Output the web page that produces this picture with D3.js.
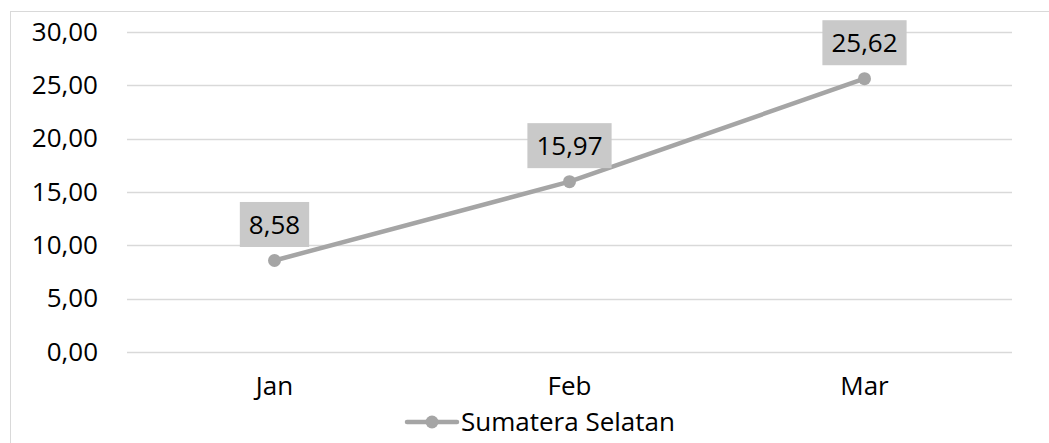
<!DOCTYPE html>
<html>
<head>
<meta charset="utf-8">
<script src="https://cdn.jsdelivr.net/npm/d3@7"></script>
<style>
  html, body { margin: 0; padding: 0; background: #fff; }
  svg { display: block; font-family: "Open Sans", "Noto Sans", sans-serif; }
</style>
</head>
<body>
<svg id="chart" width="1049" height="443"></svg>
<script>
// Monthly values for Sumatera Selatan
const categories = ["Jan", "Feb", "Mar"];
const values = [8.58, 15.97, 25.62];
const seriesName = "Sumatera Selatan";
const yTicks = [0, 5, 10, 15, 20, 25, 30];

const svg = d3.select("#chart");
const W = 1049, H = 443;
const plot = { left: 127, right: 1012, top: 32, bottom: 352 };
const lineColor = "#a5a5a5";
const fontSize = 26;
const fmt = v => d3.format(".2f")(v).replace(".", ",");

// Chart area border
svg.append("rect")
  .attr("x", 10.5).attr("y", 11.5)
  .attr("width", W + 10).attr("height", H + 10)
  .attr("fill", "none").attr("stroke", "#d9d9d9").attr("stroke-width", 1);

const x = d3.scaleBand().domain(categories).range([plot.left, plot.right]);
const y = d3.scaleLinear().domain([0, 30]).range([plot.bottom, plot.top]);

// Horizontal gridlines
svg.append("g")
  .selectAll("line").data(yTicks).join("line")
  .attr("x1", plot.left).attr("x2", plot.right)
  .attr("y1", d => Math.round(y(d)) + 0.5).attr("y2", d => Math.round(y(d)) + 0.5)
  .attr("stroke", "#d9d9d9").attr("stroke-width", 1.5);

// Y axis labels
const yAxis = d3.axisLeft(y).tickValues(yTicks).tickFormat(fmt).tickSize(0).tickPadding(0);
svg.append("g")
  .attr("transform", `translate(98,0)`)
  .call(yAxis)
  .call(g => g.select(".domain").remove())
  .call(g => g.selectAll("text")
    .attr("font-size", fontSize).attr("fill", "#000")
    .attr("font-family", "'Open Sans', sans-serif"));

// X axis labels
const xAxis = d3.axisBottom(x).tickSize(0).tickPadding(0);
svg.append("g")
  .attr("transform", `translate(0,377)`)
  .call(xAxis)
  .call(g => g.select(".domain").remove())
  .call(g => g.selectAll("text")
    .attr("font-size", fontSize).attr("fill", "#000")
    .attr("font-family", "'Open Sans', sans-serif"));

const cx = d => x(d) + x.bandwidth() / 2;
const pts = categories.map((c, i) => ({ c, v: values[i] }));

// Series line
svg.append("path")
  .datum(pts)
  .attr("fill", "none")
  .attr("stroke", lineColor)
  .attr("stroke-width", 4.5)
  .attr("stroke-linejoin", "round")
  .attr("d", d3.line().x(d => cx(d.c)).y(d => y(d.v)));

// Markers
svg.append("g")
  .selectAll("circle").data(pts).join("circle")
  .attr("cx", d => cx(d.c)).attr("cy", d => y(d.v))
  .attr("r", 6.5).attr("fill", lineColor);

// Data labels with gray boxes
const lbl = svg.append("g").selectAll("g").data(pts).join("g")
  .attr("transform", d => `translate(${cx(d.c)},${y(d.v) - 36})`);
lbl.each(function(d) {
  const g = d3.select(this);
  const t = g.append("text")
    .attr("text-anchor", "middle")
    .attr("dy", "0.35em")
    .attr("font-size", fontSize).attr("fill", "#000")
    .text(fmt(d.v));
  const w = t.node().getComputedTextLength() + 18;
  g.insert("rect", "text")
    .attr("x", -w / 2).attr("y", -22.5)
    .attr("width", w).attr("height", 45)
    .attr("fill", "#c9c9c9");
});

// Legend
const lg = svg.append("g").attr("transform", "translate(407,422)");
lg.append("line").attr("x1", 0).attr("x2", 50).attr("y1", 0).attr("y2", 0)
  .attr("stroke", lineColor).attr("stroke-width", 4.5).attr("stroke-linecap", "round");
lg.append("circle").attr("cx", 25).attr("cy", 0).attr("r", 6.5).attr("fill", lineColor);
lg.append("text").attr("x", 54).attr("y", 0).attr("dy", "0.35em")
  .attr("font-size", fontSize).attr("fill", "#000").text(seriesName);
</script>
</body>
</html>
